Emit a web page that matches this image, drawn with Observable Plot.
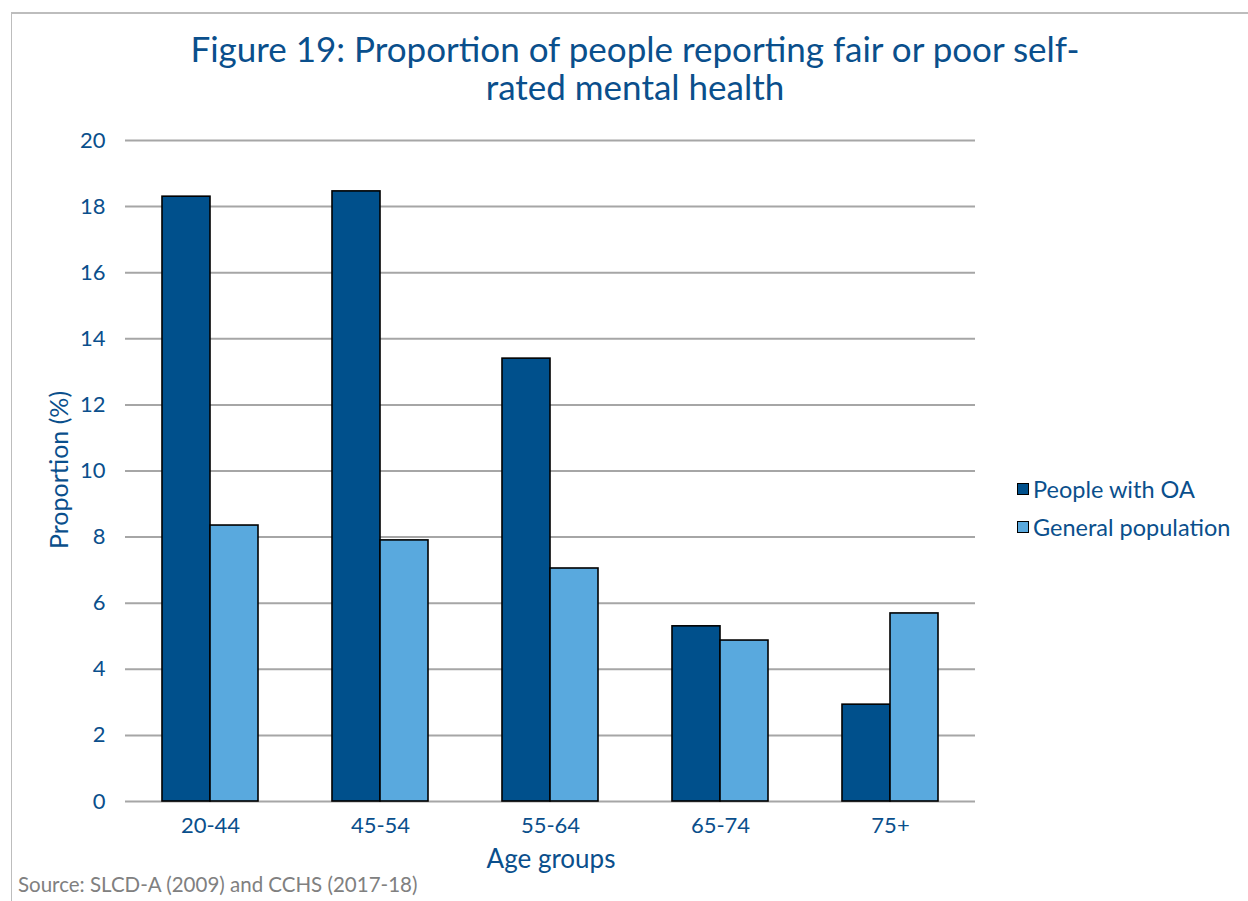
<!DOCTYPE html>
<html>
<head>
<meta charset="utf-8">
<script src="https://cdn.jsdelivr.net/npm/d3@7"></script>
<script src="https://cdn.jsdelivr.net/npm/@observablehq/plot@0.6"></script>
<style>
  html, body { margin: 0; padding: 0; background: #fff; }
  #page { position: relative; width: 1248px; height: 901px; overflow: hidden; font-family: Lato, "Open Sans", sans-serif; color: #0a4f8c; }
  #frameTop { position: absolute; left: 11px; top: 12px; width: 1237px; height: 2px; background: #bdbdbd; }
  #frameLeft { position: absolute; left: 11px; top: 12px; width: 1px; height: 889px; background: #bdbdbd; }
  .tl { position: absolute; left: 22px; width: 1226px; text-align: center; font-size: 35px; line-height: 35px; height: 35px; color: #0a4f8c; white-space: nowrap; }
  #title1 { top: 31px; }
  #title2 { top: 69px; }
  #chart { position: absolute; left: 0; top: 0; }
  #ylabel { position: absolute; left: 58px; top: 470px; transform: translate(-50%, -50%) rotate(-90deg); font-size: 25px; white-space: nowrap; }
  #xlabel { position: absolute; left: 551px; top: 858px; transform: translate(-50%, -50%); font-size: 26px; white-space: nowrap; }
  #legend { position: absolute; left: 1017px; top: 470px; font-size: 23.5px; }
  .li { display: flex; align-items: center; height: 38px; }
  .sw { width: 10px; height: 10px; border: 1.5px solid #000; margin-right: 4px; }
  #source { position: absolute; left: 18px; top: 872px; font-size: 20.5px; color: #808080; white-space: nowrap; }
</style>
</head>
<body>
<div id="page">
  <div id="frameTop"></div>
  <div id="frameLeft"></div>
  <div id="title1" class="tl">Figure 19: Proportion of people reporting fair or poor self-</div>
  <div id="title2" class="tl">rated mental health</div>
  <div id="chart"></div>
  <div id="ylabel">Proportion (%)</div>
  <div id="xlabel">Age groups</div>
  <div id="legend"></div>
  <div id="source">Source: SLCD-A (2009) and CCHS (2017-18)</div>
</div>
<script>
const ageGroups = ["20-44", "45-54", "55-64", "65-74", "75+"];
const seriesNames = ["People with OA", "General population"];
const peopleWithOA = [18.3, 18.46, 13.4, 5.3, 2.93];
const generalPopulation = [8.35, 7.9, 7.05, 4.87, 5.69];
const yTicks = [0, 2, 4, 6, 8, 10, 12, 14, 16, 18, 20];
const colors = ["#00508c", "#59a9de"];

const data = [];
ageGroups.forEach((g, i) => {
  data.push({group: g, series: seriesNames[0], value: peopleWithOA[i]});
  data.push({group: g, series: seriesNames[1], value: generalPopulation[i]});
});

const chart = Plot.plot({
  width: 1248,
  height: 901,
  marginLeft: 125,
  marginRight: 273,
  marginTop: 140,
  marginBottom: 100,
  style: {fontFamily: "Lato, 'Open Sans', sans-serif", fontSize: "22px", color: "#0a4f8c", background: "transparent"},
  fx: {domain: ageGroups, padding: 0, axis: "bottom", label: null, tickSize: 0, tickPadding: 16},
  x: {domain: seriesNames, axis: null, paddingInner: 0, paddingOuter: 0.7526},
  y: {domain: [0, 20], ticks: yTicks, label: null, tickSize: 0, tickPadding: 20, grid: false},
  color: {domain: seriesNames, range: colors},
  marks: [
    Plot.gridY(yTicks, {stroke: "#a6a6a6", strokeOpacity: 1, strokeWidth: 2}),
    Plot.barY(data, {fx: "group", x: "series", y: "value", fill: "series", stroke: "#000", strokeWidth: 1.6})
  ]
});
document.getElementById("chart").appendChild(chart);

const legend = document.getElementById("legend");
seriesNames.forEach((s, i) => {
  const row = document.createElement("div");
  row.className = "li";
  const sw = document.createElement("div");
  sw.className = "sw";
  sw.style.background = colors[i];
  const t = document.createElement("span");
  t.textContent = s;
  row.appendChild(sw);
  row.appendChild(t);
  legend.appendChild(row);
});
</script>
</body>
</html>
